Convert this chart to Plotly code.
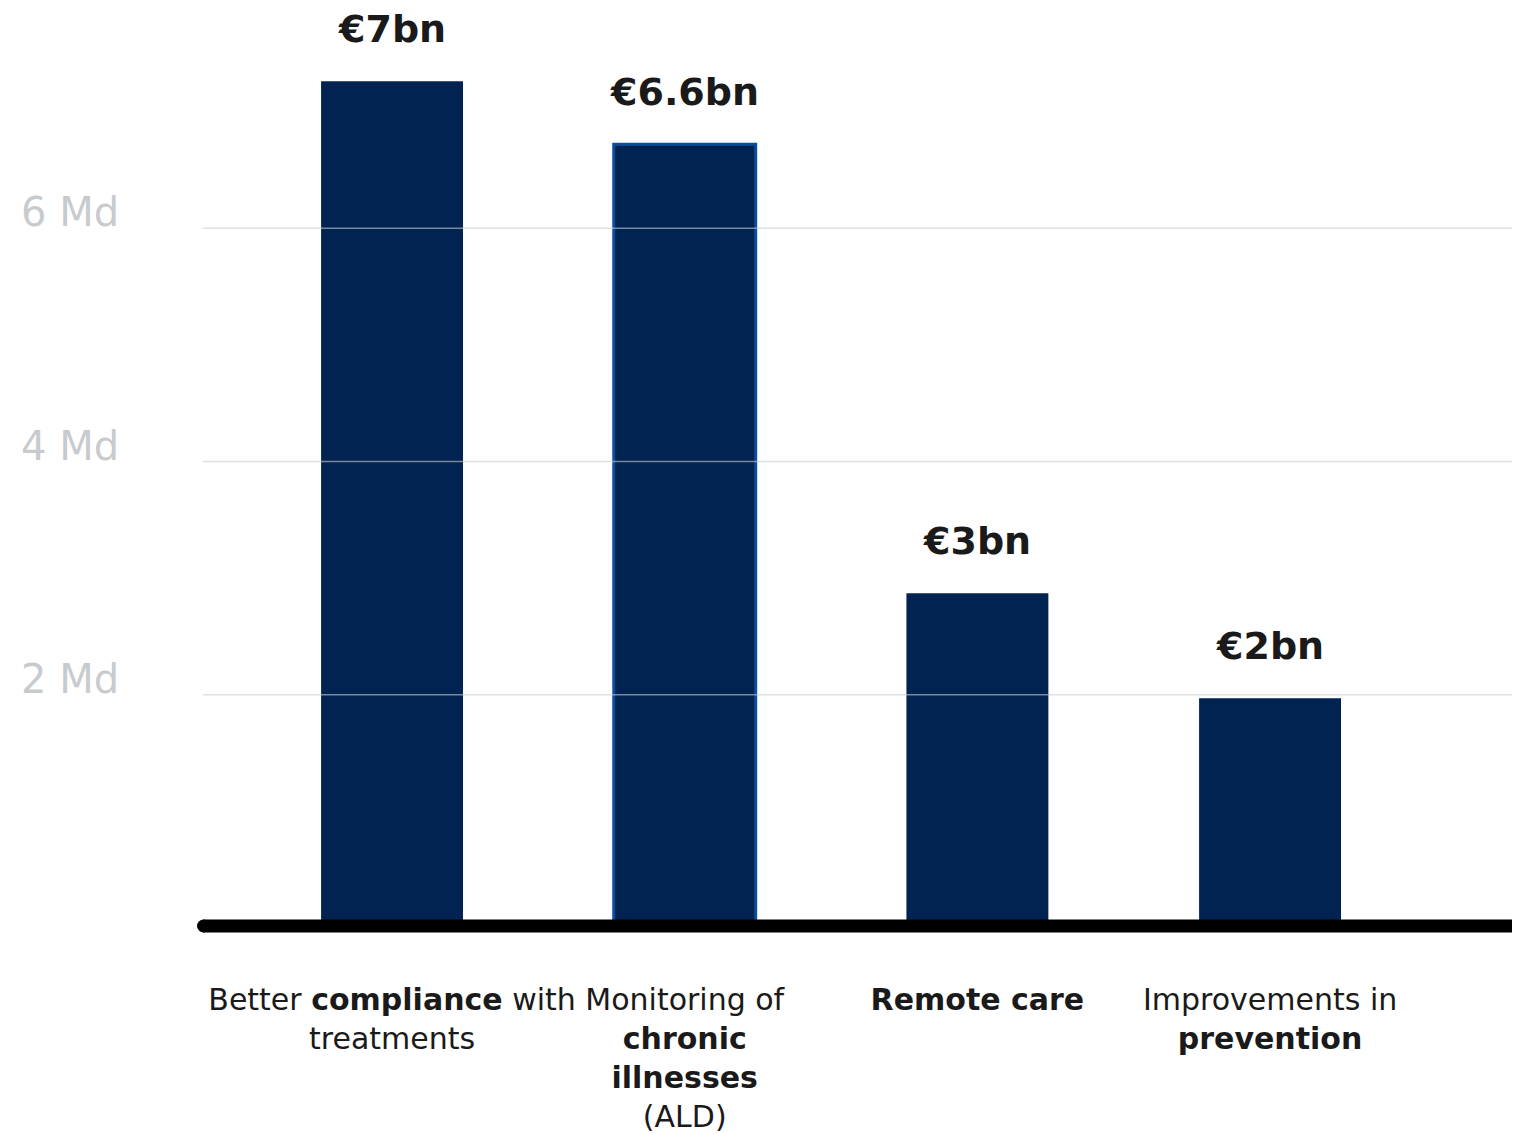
import plotly.graph_objects as go

categories = [
    "Better <b>compliance</b> with<br>treatments",
    "Monitoring of<br><b>chronic<br>illnesses</b><br>(ALD)",
    "<b>Remote care</b>",
    "Improvements in<br><b>prevention</b>",
]
values = [7.26, 6.72, 2.87, 1.97]
value_labels = ["€7bn", "€6.6bn", "€3bn", "€2bn"]
tick_vals = [2, 4, 6]
tick_labels = ["2 Md", "4 Md", "6 Md"]

FONT = "DejaVu Sans"
NAVY = "#012351"

line_colors = ["rgba(0,0,0,0)", "#0b4f9c", "rgba(0,0,0,0)", "rgba(0,0,0,0)"]
line_widths = [0, 3, 0, 0]

fig = go.Figure()
fig.add_trace(go.Bar(
    x=categories,
    y=values,
    width=0.485,
    marker=dict(color=NAVY, line=dict(color=line_colors, width=line_widths)),
    hoverinfo="skip",
))

annotations = []
for c, v, t in zip(categories, values, value_labels):
    annotations.append(dict(
        x=c, y=v, xref="x", yref="y", text=t, showarrow=False,
        yanchor="middle", yshift=52,
        font=dict(family=FONT, size=38, color="#1a1a1a", weight=600),
    ))
for tv, tl in zip(tick_vals, tick_labels):
    annotations.append(dict(
        x=0, y=tv, xref="paper", yref="y", text=tl, showarrow=False,
        xanchor="right", yanchor="middle", xshift=-82, yshift=16,
        font=dict(family=FONT, size=40, color="#c8cbce"),
    ))

shapes = []
for tv in tick_vals:
    shapes.append(dict(
        type="line", xref="paper", x0=0, x1=1, yref="y", y0=tv, y1=tv,
        line=dict(color="rgba(200,205,210,0.6)", width=1.5), layer="above",
    ))
# baseline
shapes.append(dict(
    type="line", xref="paper", x0=0, x1=1, yref="y", ysizemode="pixel",
    yanchor=0, y0=2, y1=2, line=dict(color="black", width=13), layer="above",
))
shapes.append(dict(
    type="circle", xref="paper", xsizemode="pixel", xanchor=0, x0=-6, x1=7,
    yref="y", ysizemode="pixel", yanchor=0, y0=-4.5, y1=8.5,
    fillcolor="black", line=dict(width=0), layer="above",
))

fig.update_layout(
    width=1512, height=1126,
    margin=dict(l=195, r=0, t=2, b=194),
    paper_bgcolor="white", plot_bgcolor="white",
    showlegend=False,
    annotations=annotations,
    shapes=shapes,
    font=dict(family=FONT),
    xaxis=dict(
        type="category", range=[-0.646, 3.854], showgrid=False, showline=False,
        zeroline=False, ticks="", tickangle=0, ticklabelstandoff=42,
        tickfont=dict(family=FONT, size=30, color="#1a1a1a"),
    ),
    yaxis=dict(
        range=[-0.077, 7.872], showgrid=False, showticklabels=False,
        zeroline=False, showline=False,
    ),
)

fig.write_html("out.html")
